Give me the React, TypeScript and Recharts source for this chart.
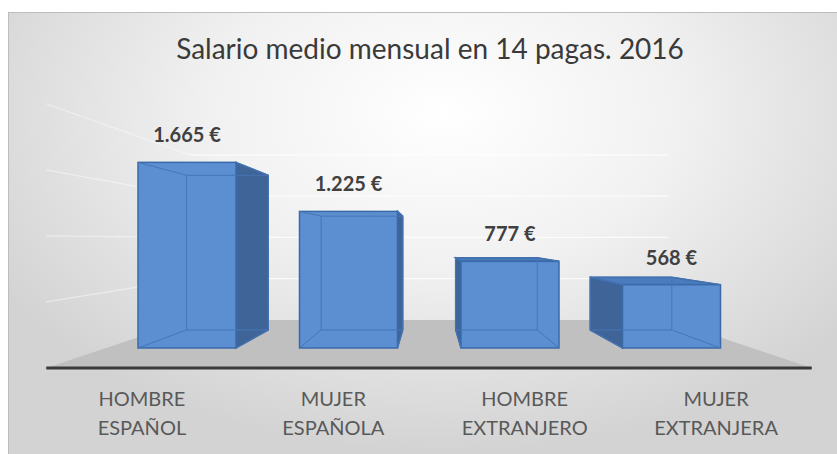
import { BarChart, Bar, XAxis, YAxis, CartesianGrid, LabelList } from 'recharts';

const categories = ['HOMBRE ESPAÑOL', 'MUJER ESPAÑOLA', 'HOMBRE EXTRANJERO', 'MUJER EXTRANJERA'];
const salaries = [1665, 1225, 777, 568];
const yTicks = [0, 500, 1000, 1500, 2000];

const data = categories.map((cat, i) => ({ cat, salario: salaries[i] }));

const W = 837;
const H = 454;
const M = { top: 125, right: 85, bottom: 46, left: 106 };
const X_AXIS_H = 60;
const PLOT_BOTTOM = H - M.bottom - X_AXIS_H;
// vanishing point of the fake 3D view
const VPX = (M.left + (W - M.right)) / 2;
const VPY = 240;
const S_BACK = 0.833; // back face of each box
const S_WALL = 0.741; // back wall
const S_FRONT = 1.185; // front edge of the floor

const EUR = new Intl.NumberFormat('de-DE', { maximumFractionDigits: 0 });
const FONT = 'Lato, "Open Sans", sans-serif';

const project = (x: number, y: number, s: number) => [VPX + (x - VPX) * s, VPY + (y - VPY) * s];
const pts = (list: number[][]) => list.map((p) => p.join(',')).join(' ');

const gridLine = (p: any) => {
  const { x1, x2, y1, index } = p;
  const bl = project(x1, y1, S_WALL);
  const br = project(x2, y1, S_WALL);
  const fl = project(x1, y1, S_FRONT);
  if (Math.abs(y1 - PLOT_BOTTOM) < 1) {
    const fr = project(x2, y1, S_FRONT);
    return (
      <g key={`floor-${index}`}>
        <polygon points={pts([bl, br, fr, fl])} fill="#c0c0c0" />
        <line x1={fl[0]} y1={fl[1]} x2={fr[0]} y2={fr[1]} stroke="#3a3a3a" strokeWidth={3} />
      </g>
    );
  }
  return (
    <g key={`grid-${index}`} stroke="#ffffff" strokeWidth={1.2}>
      <line x1={bl[0]} y1={bl[1]} x2={br[0]} y2={br[1]} strokeOpacity={0.75} />
      <line x1={bl[0]} y1={bl[1]} x2={fl[0]} y2={fl[1]} strokeOpacity={0.45} />
    </g>
  );
};

const Box = (props: any) => {
  const { x, y, width, height } = props;
  const x0 = x;
  const x1 = x + width;
  const yt = y;
  const yb = y + height;
  const b00 = project(x0, yt, S_BACK);
  const b10 = project(x1, yt, S_BACK);
  const b01 = project(x0, yb, S_BACK);
  const b11 = project(x1, yb, S_BACK);
  const edge = '#3a69a8';
  return (
    <g>
      {x1 < VPX && (
        <polygon points={pts([[x1, yt], b10, b11, [x1, yb]])} fill="#3f6598" stroke={edge} strokeWidth={1.5} />
      )}
      {x0 > VPX && (
        <polygon points={pts([[x0, yt], b00, b01, [x0, yb]])} fill="#3f6598" stroke={edge} strokeWidth={1.5} />
      )}
      {yt > VPY && (
        <polygon points={pts([[x0, yt], b00, b10, [x1, yt]])} fill="#4a7bbd" stroke={edge} strokeWidth={1.5} />
      )}
      <rect x={x0} y={yt} width={width} height={height} fill="#5b8fd2" stroke={edge} strokeWidth={1.5} />
      <g stroke="#4775b3" strokeWidth={1} fill="none">
        <polygon points={pts([b00, b10, b11, b01])} />
        <line x1={x0} y1={yt} x2={b00[0]} y2={b00[1]} />
        <line x1={x1} y1={yt} x2={b10[0]} y2={b10[1]} />
        <line x1={x0} y1={yb} x2={b01[0]} y2={b01[1]} />
        <line x1={x1} y1={yb} x2={b11[0]} y2={b11[1]} />
      </g>
    </g>
  );
};

const ValueLabel = (props: any) => {
  const { x, y, width, value } = props;
  return (
    <text x={x + width / 2} y={y - 20} textAnchor="middle" fontFamily={FONT} fontWeight={700} fontSize={20} fill="#404040">
      {`${EUR.format(value)} €`}
    </text>
  );
};

const CatTick = (props: any) => {
  const { x, payload } = props;
  const tx = VPX + (x - VPX) * S_FRONT;
  const [a, b] = String(payload.value).split(' ');
  return (
    <g>
      <text x={tx} y={PLOT_BOTTOM + 58} textAnchor="middle" fontFamily={FONT} fontSize={20} fill="#595959">{a}</text>
      <text x={tx} y={PLOT_BOTTOM + 87} textAnchor="middle" fontFamily={FONT} fontSize={20} fill="#595959">{b}</text>
    </g>
  );
};

export default function App() {
  return (
    <div style={{ position: 'fixed', left: 0, top: 0, width: W, height: H, background: '#fff', overflow: 'hidden' }}>
      <div
        style={{
          position: 'absolute',
          left: 8,
          top: 12,
          width: W,
          height: H,
          borderLeft: '1px solid #bdbdbd',
          borderTop: '1px solid #bdbdbd',
          background: 'radial-gradient(ellipse 62% 75% at 52% 22%, #ffffff 0%, #f1f1f1 45%, #d3d3d3 100%)',
        }}
      />
      <div
        style={{
          position: 'absolute',
          left: 0,
          width: 860,
          top: 31,
          textAlign: 'center',
          fontFamily: FONT,
          fontSize: 28,
          color: '#3a3a3a',
        }}
      >
        Salario medio mensual en 14 pagas. 2016
      </div>
      <div style={{ position: 'absolute', left: 0, top: 0 }}>
        <BarChart width={W} height={H} data={data} margin={M}>
          <CartesianGrid vertical={false} horizontal={gridLine} />
          <XAxis dataKey="cat" height={X_AXIS_H} axisLine={false} tickLine={false} interval={0} tick={<CatTick />} />
          <YAxis hide domain={[0, 2000]} ticks={yTicks} />
          <Bar dataKey="salario" barSize={98} shape={<Box />} isAnimationActive={false}>
            <LabelList dataKey="salario" content={<ValueLabel />} />
          </Bar>
        </BarChart>
      </div>
    </div>
  );
}
